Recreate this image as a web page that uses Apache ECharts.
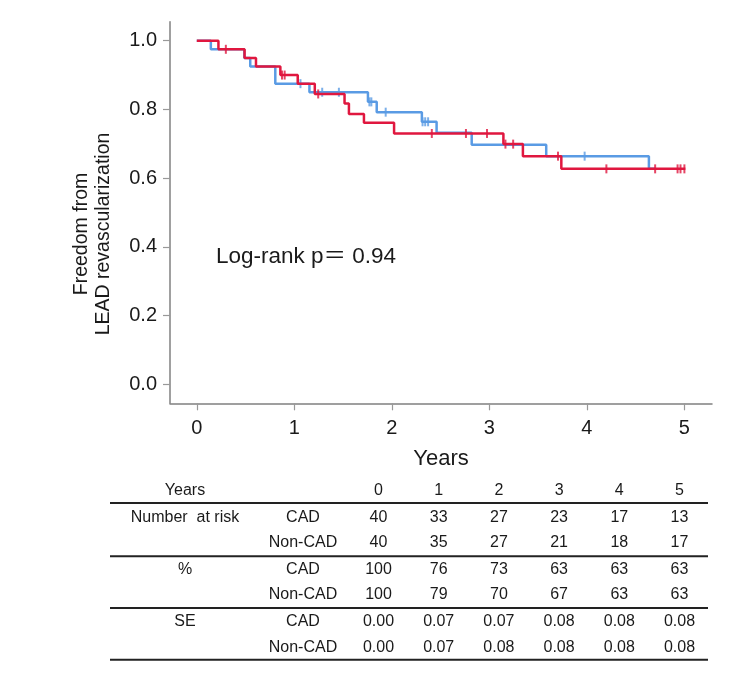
<!DOCTYPE html>
<html>
<head>
<meta charset="utf-8">
<script src="https://cdn.jsdelivr.net/npm/echarts@6/dist/echarts.min.js"></script>
<style>
html,body{margin:0;padding:0;background:#fff;}
#chart{width:750px;height:680px;}
</style>
</head>
<body>
<div id="chart"></div>
<script>
// ---- Kaplan-Meier curves ----
const blueTimes = [0, 0.144, 0.487, 0.548, 0.805, 1.155, 1.755, 1.845, 2.308, 2.459, 2.819, 3.583, 4.636, 4.70];
const blueSurv  = [1, 0.975, 0.95, 0.925, 0.875, 0.85, 0.822, 0.792, 0.764, 0.732, 0.697, 0.664, 0.627, 0.627];
const blueCensorTimes = [1.063, 1.286, 1.457, 1.77, 1.79, 1.937, 2.315, 2.342, 2.372, 3.977];
const blueCensorSurv  = [0.875, 0.85, 0.85, 0.822, 0.822, 0.792, 0.764, 0.764, 0.764, 0.664];

const redTimes = [0, 0.222, 0.490, 0.607, 0.857, 1.035, 1.21, 1.515, 1.56, 1.714, 2.023, 3.144, 3.344, 3.738, 5.01];
const redSurv  = [1, 0.975, 0.95, 0.925, 0.9, 0.875, 0.845, 0.817, 0.787, 0.761, 0.730, 0.699, 0.664, 0.627, 0.627];
const redCensorTimes = [0.298, 0.874, 0.901, 1.245, 2.41, 2.76, 2.976, 3.165, 3.244, 3.704, 4.20, 4.70, 4.93, 4.96, 5.0];
const redCensorSurv  = [0.975, 0.9, 0.9, 0.845, 0.730, 0.730, 0.730, 0.699, 0.699, 0.664, 0.627, 0.627, 0.627, 0.627, 0.627];

// ---- axis ticks ----
const xTicks = [0, 1, 2, 3, 4, 5];
const yTicks = [0, 0.2, 0.4, 0.6, 0.8, 1.0];

// ---- risk table ----
const tableYears = [0, 1, 2, 3, 4, 5];
const riskCAD    = [40, 33, 27, 23, 17, 13];
const riskNonCAD = [40, 35, 27, 21, 18, 17];
const pctCAD     = [100, 76, 73, 63, 63, 63];
const pctNonCAD  = [100, 79, 70, 67, 63, 63];
const seCAD      = ['0.00', '0.07', '0.07', '0.08', '0.08', '0.08'];
const seNonCAD   = ['0.00', '0.07', '0.08', '0.08', '0.08', '0.08'];

const pValueText = 'Log-rank p\uFF1D 0.94';

const FONT = '"Liberation Sans", Arial, "Noto Sans CJK JP", sans-serif';
const TXT = '#1a1a1a';
const BLUE = '#5A9BE4';
const RED = '#E0173F';

const zip = (a, b) => a.map((v, i) => [v, b[i]]);

const chart = echarts.init(document.getElementById('chart'), null, {renderer: 'canvas'});

// table graphics
const g = [];
const colLeft = 185, colGroup = 303, col0 = 378.5, colStep = 60.2;
const rows = [491, 517.5, 543, 569.5, 595, 622, 648];
const lines = [503, 556.3, 608, 659.7];
function txt(x, y, s, size) {
  g.push({type: 'text', x: x, y: y, style: {text: String(s), fill: TXT, font: size + 'px ' + FONT, align: 'center', verticalAlign: 'middle'}});
}
txt(colLeft, rows[0], 'Years', 16);
tableYears.forEach((v, i) => txt(col0 + i * colStep, rows[0], v, 16));
txt(colLeft, rows[1], 'Number  at risk', 16);
txt(colGroup, rows[1], 'CAD', 16);
txt(colGroup, rows[2], 'Non-CAD', 16);
riskCAD.forEach((v, i) => txt(col0 + i * colStep, rows[1], v, 16));
riskNonCAD.forEach((v, i) => txt(col0 + i * colStep, rows[2], v, 16));
txt(colLeft, rows[3], '%', 16);
txt(colGroup, rows[3], 'CAD', 16);
txt(colGroup, rows[4], 'Non-CAD', 16);
pctCAD.forEach((v, i) => txt(col0 + i * colStep, rows[3], v, 16));
pctNonCAD.forEach((v, i) => txt(col0 + i * colStep, rows[4], v, 16));
txt(colLeft, rows[5], 'SE', 16);
txt(colGroup, rows[5], 'CAD', 16);
txt(colGroup, rows[6], 'Non-CAD', 16);
seCAD.forEach((v, i) => txt(col0 + i * colStep, rows[5], v, 16));
seNonCAD.forEach((v, i) => txt(col0 + i * colStep, rows[6], v, 16));
lines.forEach(y => g.push({type: 'line', shape: {x1: 110, y1: y, x2: 708, y2: y}, style: {stroke: '#222', lineWidth: 2}}));

// y axis title (two lines, rotated)
g.push({type: 'text', x: 81.7, y: 234, rotation: Math.PI / 2, style: {text: 'Freedom from', fill: TXT, font: '19.5px ' + FONT, align: 'center', verticalAlign: 'middle'}});
g.push({type: 'text', x: 103.3, y: 234, rotation: Math.PI / 2, style: {text: 'LEAD revascularization', fill: TXT, font: '19.5px ' + FONT, align: 'center', verticalAlign: 'middle'}});
// log-rank text
g.push({type: 'text', x: 216, y: 256.5, style: {text: pValueText, fill: TXT, font: '22.5px ' + FONT, align: 'left', verticalAlign: 'middle'}});

const option = {
  backgroundColor: '#fff',
  animation: false,
  grid: {left: 170, right: 38, top: 21.7, bottom: 276.7, containLabel: false},
  xAxis: {
    type: 'value',
    min: -0.2747, max: 5.283,
    splitLine: {show: false},
    axisLine: {show: true, onZero: false, lineStyle: {color: '#808080', width: 1.5}},
    axisTick: {show: true, customValues: xTicks, length: 7, lineStyle: {color: '#999', width: 1.2}},
    axisLabel: {show: true, customValues: xTicks, margin: 15, fontSize: 20, color: TXT, fontFamily: FONT},
    name: 'Years', nameLocation: 'middle', nameGap: 45,
    nameTextStyle: {fontSize: 22, color: TXT, fontFamily: FONT}
  },
  yAxis: {
    type: 'value',
    min: -0.0553, max: 1.0553,
    splitLine: {show: false},
    axisLine: {show: true, onZero: false, lineStyle: {color: '#808080', width: 1.5}},
    axisTick: {show: true, customValues: yTicks, length: 7, lineStyle: {color: '#999', width: 1.2}},
    axisLabel: {show: true, customValues: yTicks, margin: 13, fontSize: 20, color: TXT, fontFamily: FONT,
      formatter: v => v.toFixed(1)}
  },
  series: [
    {name: 'Non-CAD', type: 'line', step: 'end', data: zip(blueTimes, blueSurv), showSymbol: false, symbol: 'none',
     lineStyle: {color: BLUE, width: 2.5}, z: 2},
    {name: 'Non-CAD censored', type: 'scatter', data: zip(blueCensorTimes, blueCensorSurv), symbol: 'rect', symbolSize: [2, 9],
     itemStyle: {color: BLUE}, z: 3},
    {name: 'CAD', type: 'line', step: 'end', data: zip(redTimes, redSurv), showSymbol: false, symbol: 'none',
     lineStyle: {color: RED, width: 2.5}, z: 4},
    {name: 'CAD censored', type: 'scatter', data: zip(redCensorTimes, redCensorSurv), symbol: 'rect', symbolSize: [2, 9],
     itemStyle: {color: RED}, z: 5}
  ],
  graphic: g
};
chart.setOption(option);
</script>
</body>
</html>
